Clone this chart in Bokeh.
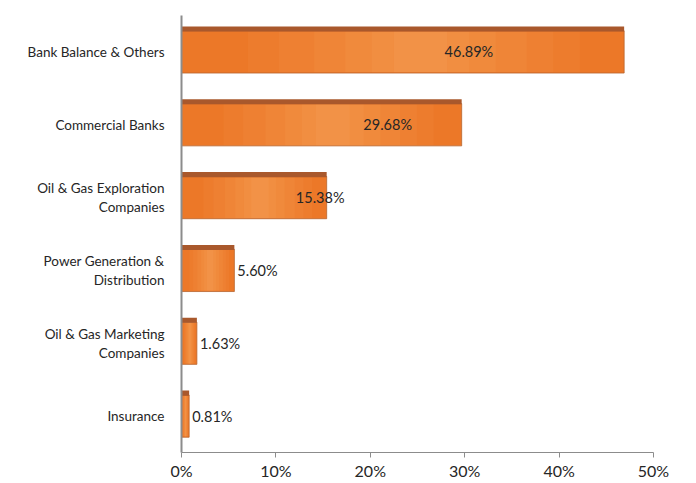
from bokeh.plotting import figure
from bokeh.models import FactorRange, Range1d, FixedTicker, PrintfTickFormatter, ColumnDataSource
from bokeh.transform import dodge
from bokeh.core.properties import value as V
from bokeh.embed import file_html
from bokeh.resources import INLINE

categories = [
    "Bank Balance & Others",
    "Commercial Banks",
    "Oil & Gas Exploration\nCompanies",
    "Power Generation &\nDistribution",
    "Oil & Gas Marketing\nCompanies",
    "Insurance",
]
values = [46.89, 29.68, 15.38, 5.60, 1.63, 0.81]
value_labels = ["46.89%", "29.68%", "15.38%", "5.60%", "1.63%", "0.81%"]
x_ticks = [0, 10, 20, 30, 40, 50]

FONT = "Lato"

p = figure(
    width=680, height=482,
    y_range=FactorRange(factors=categories[::-1], range_padding=0),
    x_range=Range1d(0, 50),
    output_backend="svg", toolbar_location=None,
    min_border_left=181, min_border_right=27, min_border_top=15, min_border_bottom=0,
)
p.outline_line_color = None
p.grid.visible = False
p.background_fill_color = "white"
p.border_fill_color = "white"

src = ColumnDataSource(dict(cat=categories, val=values))

# main bar body
p.hbar(y="cat", left=0, right="val", height=0.58, source=src,
       fill_color="#EC7828", line_color="#B8652F", line_width=0.8)
# soft highlight towards the middle of each bar (nested translucent layers)
for lo, hi, a in [(0.15, 0.90, 0.07), (0.22, 0.84, 0.08), (0.30, 0.78, 0.09),
                  (0.37, 0.71, 0.10), (0.43, 0.65, 0.11), (0.48, 0.60, 0.12)]:
    hl = ColumnDataSource(dict(cat=categories,
                               l=[v * lo for v in values],
                               r=[v * hi for v in values]))
    p.hbar(y="cat", left="l", right="r", height=0.56, source=hl,
           fill_color="#FBB870", fill_alpha=a, line_color=None)
# darker top face (3D look)
p.hbar(y=dodge("cat", 0.315, range=p.y_range), left=0, right="val", height=0.07, source=src,
       fill_color="#A9582C", line_color=None)

# value labels
big = [i for i, v in enumerate(values) if v >= 10]
small = [i for i, v in enumerate(values) if v < 10]
src_big = ColumnDataSource(dict(cat=[categories[i] for i in big],
                                x=[values[i] * 0.5 + 7 for i in big],
                                lab=[value_labels[i] for i in big]))
src_small = ColumnDataSource(dict(cat=[categories[i] for i in small],
                                  x=[values[i] for i in small],
                                  lab=[value_labels[i] for i in small]))
p.text(x="x", y="cat", text="lab", source=src_big, text_align="center",
       text_baseline="middle", text_font=V(FONT), text_font_size="14.5px", text_color="#262626")
p.text(x="x", y="cat", text="lab", source=src_small, text_align="left", x_offset=3,
       text_baseline="middle", text_font=V(FONT), text_font_size="14.5px", text_color="#262626")

# axes
p.xaxis.ticker = FixedTicker(ticks=x_ticks)
p.xaxis.formatter = PrintfTickFormatter(format="%d%%")
p.xaxis.axis_line_color = "#8C8C8C"
p.xaxis.major_tick_line_color = "#8C8C8C"
p.xaxis.major_tick_out = 5
p.xaxis.major_tick_in = 0
p.xaxis.minor_tick_line_color = None
p.xaxis.major_label_standoff = 3
p.xaxis.major_label_text_font = FONT
p.xaxis.major_label_text_font_size = "16px"
p.xaxis.major_label_text_color = "#262626"

p.yaxis.axis_line_color = "#8C8C8C"
p.yaxis.axis_line_width = 2
p.yaxis.major_tick_line_color = None
p.yaxis.minor_tick_line_color = None
p.yaxis.major_label_standoff = 11
p.yaxis.major_label_text_font = FONT
p.yaxis.major_label_text_font_size = "13.5px"
p.yaxis.major_label_text_color = "#262626"

open("out.html", "w").write(file_html(p, INLINE))
